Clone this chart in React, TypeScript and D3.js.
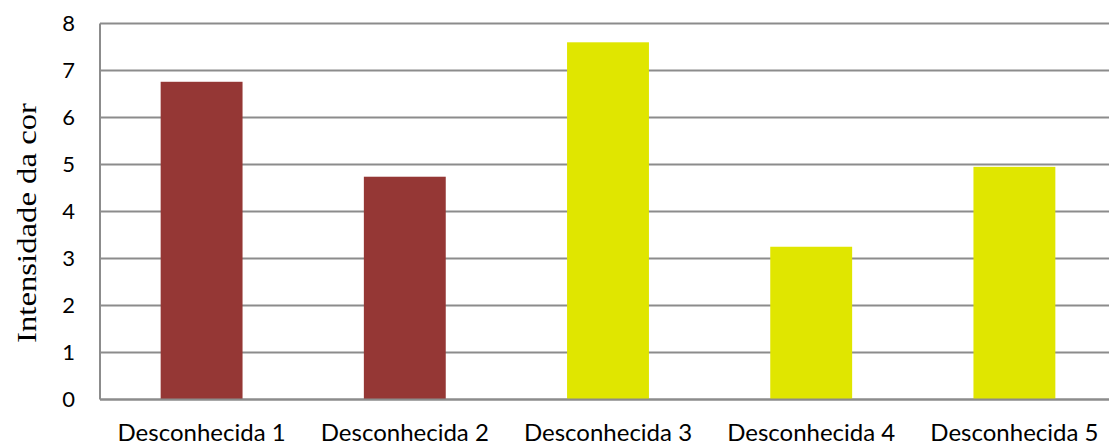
import { useEffect, useRef } from "react";
import * as d3 from "d3";

const categories = ["Desconhecida 1", "Desconhecida 2", "Desconhecida 3", "Desconhecida 4", "Desconhecida 5"];
const values = [6.76, 4.74, 7.6, 3.25, 4.95];
const barColors = ["#953735", "#953735", "#E0E600", "#E0E600", "#E0E600"];
const yTicks = [0, 1, 2, 3, 4, 5, 6, 7, 8];
const yTitle = "Intensidade da cor";

export default function App() {
  const svgRef = useRef<SVGSVGElement | null>(null);

  useEffect(() => {
    const width = 1109;
    const height = 446;
    const left = 100;
    const top = 23.5;
    const plotW = 1016;
    const plotH = 376;

    const svg = d3.select(svgRef.current);
    svg.selectAll("*").remove();
    svg.attr("width", width).attr("height", height);

    const x = d3.scaleBand<string>()
      .domain(categories)
      .range([left, left + plotW])
      .paddingInner(0.597)
      .paddingOuter(0.2985);

    const y = d3.scaleLinear().domain([0, 8]).range([top + plotH, top]);

    // gridlines
    svg.append("g")
      .selectAll("line")
      .data(yTicks)
      .enter().append("line")
      .attr("x1", left)
      .attr("x2", left + plotW)
      .attr("y1", d => y(d))
      .attr("y2", d => y(d))
      .attr("stroke", "#8c8c8c")
      .attr("stroke-width", 2);

    // y axis line
    svg.append("line")
      .attr("x1", left).attr("x2", left)
      .attr("y1", y(0)).attr("y2", y(8))
      .attr("stroke", "#8c8c8c")
      .attr("stroke-width", 2);

    // bars
    svg.append("g")
      .selectAll("rect")
      .data(values)
      .enter().append("rect")
      .attr("x", (_, i) => x(categories[i]) as number)
      .attr("width", x.bandwidth())
      .attr("y", d => y(d))
      .attr("height", d => y(0) - y(d))
      .attr("fill", (_, i) => barColors[i]);

    // redraw baseline on top of bars
    svg.append("line")
      .attr("x1", left).attr("x2", left + plotW)
      .attr("y1", y(0)).attr("y2", y(0))
      .attr("stroke", "#8c8c8c")
      .attr("stroke-width", 2);

    // y tick labels
    svg.append("g")
      .selectAll("text")
      .data(yTicks)
      .enter().append("text")
      .attr("x", 75)
      .attr("y", d => y(d))
      .attr("dy", "0.35em")
      .attr("text-anchor", "end")
      .attr("font-family", "Lato, 'Open Sans', sans-serif")
      .attr("font-size", 22)
      .attr("fill", "#000")
      .text(d => d);

    // category labels
    svg.append("g")
      .selectAll("text")
      .data(categories)
      .enter().append("text")
      .attr("x", d => (x(d) as number) + x.bandwidth() / 2)
      .attr("y", 441)
      .attr("text-anchor", "middle")
      .attr("font-family", "Lato, 'Open Sans', sans-serif")
      .attr("font-size", 24)
      .attr("fill", "#000")
      .text(d => d);

    // y title
    svg.append("text")
      .attr("transform", `translate(36,223) rotate(-90)`)
      .attr("text-anchor", "middle")
      .attr("font-family", "'Liberation Serif', 'Times New Roman', serif")
      .attr("font-size", 28)
      .attr("textLength", 240)
      .attr("lengthAdjust", "spacingAndGlyphs")
      .attr("fill", "#000")
      .text(yTitle);
  }, []);

  return (
    <svg
      ref={svgRef}
      style={{ position: "absolute", left: 0, top: 0, display: "block", background: "#fff" }}
    />
  );
}
